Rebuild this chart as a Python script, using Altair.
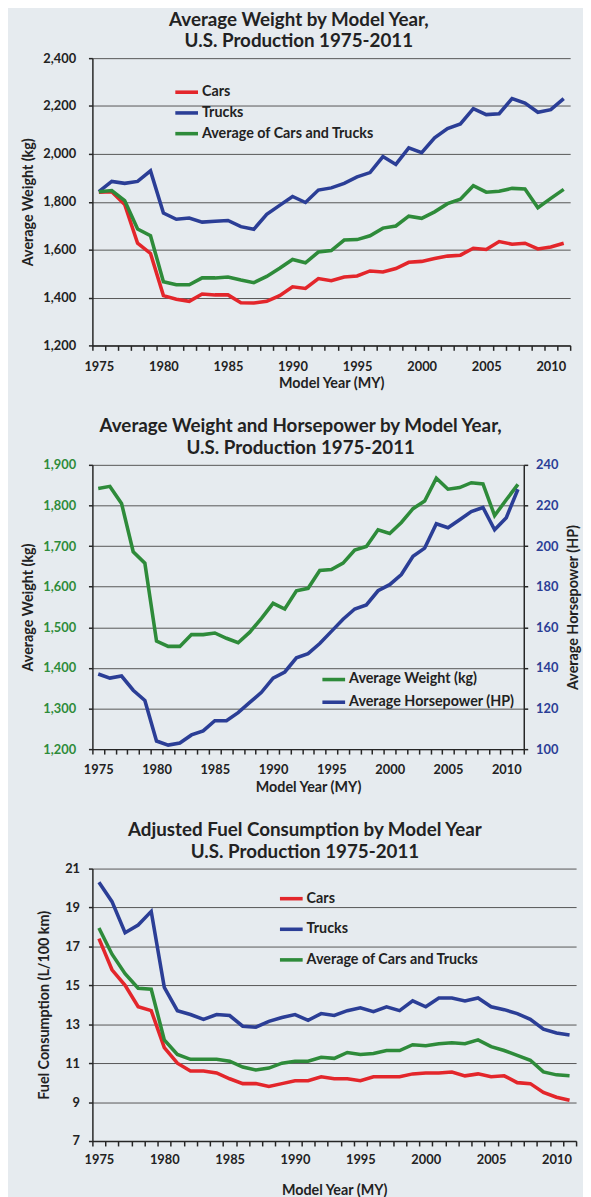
import altair as alt
import pandas as pd

# ---------------- data ----------------
years = list(range(1975, 2012))

cars_weight = [1840, 1842, 1789, 1627, 1584, 1408, 1393, 1384, 1415, 1411,
               1411, 1378, 1377, 1384, 1408, 1445, 1438, 1479, 1470, 1486,
               1490, 1511, 1507, 1521, 1547, 1551, 1563, 1573, 1577, 1606,
               1601, 1634, 1623, 1627, 1603, 1611, 1627]
trucks_weight = [1842, 1885, 1877, 1885, 1929, 1753, 1727, 1732, 1715, 1719,
                 1722, 1696, 1685, 1748, 1785, 1822, 1797, 1849, 1858, 1877,
                 1904, 1922, 1989, 1956, 2025, 2005, 2067, 2106, 2125, 2189,
                 2164, 2168, 2231, 2212, 2174, 2185, 2231]
avg_weight = [1842, 1847, 1805, 1686, 1658, 1466, 1453, 1453, 1482, 1482,
              1486, 1473, 1462, 1488, 1522, 1559, 1545, 1590, 1596, 1640,
              1642, 1658, 1690, 1699, 1740, 1731, 1758, 1792, 1811, 1867,
              1840, 1844, 1856, 1853, 1775, 1814, 1852]
avg_hp = [137, 135, 136, 129, 124, 104, 102, 103, 107, 109,
          114, 114, 118, 123, 128, 135, 138, 145, 147, 152,
          158, 164, 169, 171, 178, 181, 186, 195, 199, 211,
          209, 213, 217, 219, 208, 214, 228]
cars_fc = [17.4, 15.8, 15.0, 13.9, 13.7, 11.8, 11.0, 10.6, 10.6, 10.5,
           10.2, 9.95, 9.95, 9.8, 9.95, 10.1, 10.1, 10.3, 10.2, 10.2,
           10.1, 10.3, 10.3, 10.3, 10.45, 10.5, 10.5, 10.55, 10.35, 10.45,
           10.3, 10.35, 10.0, 9.95, 9.5, 9.25, 9.1]
trucks_fc = [20.3, 19.3, 17.7, 18.1, 18.8, 14.9, 13.7, 13.5, 13.25, 13.5,
             13.45, 12.9, 12.85, 13.15, 13.35, 13.5, 13.2, 13.55, 13.45, 13.7,
             13.85, 13.65, 13.9, 13.7, 14.2, 13.9, 14.35, 14.35, 14.2, 14.35,
             13.9, 13.75, 13.55, 13.25, 12.75, 12.55, 12.45]
avg_fc = [17.95, 16.6, 15.6, 14.85, 14.8, 12.2, 11.45, 11.2, 11.2, 11.2,
          11.1, 10.8, 10.65, 10.75, 11.0, 11.1, 11.1, 11.3, 11.25, 11.55,
          11.45, 11.5, 11.65, 11.65, 11.95, 11.9, 12.0, 12.05, 12.0, 12.2,
          11.85, 11.65, 11.4, 11.15, 10.55, 10.4, 10.35]

series3 = ["Cars", "Trucks", "Average of Cars and Trucks"]
series2 = ["Average Weight (kg)", "Average Horsepower (HP)"]

weight_ticks = list(range(1200, 2401, 200))
weight2_ticks = list(range(1200, 1901, 100))
hp_ticks = list(range(100, 241, 20))
fc_ticks = list(range(7, 22, 2))
year_bounds = [y - 0.5 for y in range(1975, 2013)]

# ---------------- style ----------------
FONT = "Lato"
TXT = "#222222"
RED = "#E3262B"
BLUE = "#2B3E96"
GREEN = "#2E8B3A"
BG = "#e6ebef"
LW = 3.6

year_label_expr = ("((datum.value + 0.5) % 5 == 0 && datum.value < 2011) "
                   "? '' + (datum.value + 0.5) : ''")


def x_enc(half, label_pad, title_pad):
    return alt.X(
        "year:Q",
        scale=alt.Scale(domain=[1974.5, 2011.5], nice=False, zero=False),
        axis=alt.Axis(values=year_bounds, labelExpr=year_label_expr,
                      labelOffset=half, labelFlush=False, labelOverlap=False,
                      labelAlign="center", title="Model Year (MY)", grid=False,
                      tickSize=5, labelPadding=label_pad, titlePadding=title_pad),
    )


def legend(x, y, row_pad):
    return alt.Legend(title=None, orient="none", legendX=x, legendY=y,
                      direction="vertical", symbolType="stroke", symbolSize=529,
                      symbolStrokeWidth=LW, labelFont=FONT, labelFontSize=14.5,
                      labelFontWeight="bold", labelColor=TXT, labelOffset=2,
                      rowPadding=row_pad, padding=0, labelLimit=400)


def title(lines):
    return alt.TitleParams(lines, font=FONT, fontSize=19, fontWeight="bold",
                           color=TXT, lineHeight=22, anchor="middle",
                           frame="bounds", offset=1)


# ---------------- panel 1 ----------------
df1 = pd.DataFrame({
    "year": years * 3,
    "value": cars_weight + trucks_weight + avg_weight,
    "series": [series3[0]] * len(years) + [series3[1]] * len(years) + [series3[2]] * len(years),
})
p1 = alt.Chart(df1).mark_line(strokeWidth=LW).encode(
    x=x_enc(6.5, 10.5, 3),
    y=alt.Y("value:Q", scale=alt.Scale(domain=[1200, 2400], nice=False, zero=False),
            axis=alt.Axis(values=weight_ticks, format=",d", title="Average Weight (kg)",
                          grid=True, tickSize=4, labelPadding=13, titlePadding=7)),
    color=alt.Color("series:N", sort=series3,
                    scale=alt.Scale(domain=series3, range=[RED, BLUE, GREEN]),
                    legend=legend(82, 21, -1.3)),
).properties(width=484, height=291,
             title=title(["Average Weight by Model Year,", "U.S. Production 1975-2011"]))

# ---------------- panel 2 ----------------
dfw = pd.DataFrame({"year": years, "value": avg_weight, "series": series2[0]})
dfh = pd.DataFrame({"year": years, "value": avg_hp, "series": series2[1]})
color2 = alt.Color("series:N", sort=series2,
                   scale=alt.Scale(domain=series2, range=[GREEN, BLUE]),
                   legend=legend(231, 204, 2))
wline = alt.Chart(dfw).mark_line(strokeWidth=LW).encode(
    x=x_enc(5.9, 9.5, 4),
    y=alt.Y("value:Q", scale=alt.Scale(domain=[1200, 1900], nice=False, zero=False),
            axis=alt.Axis(values=weight2_ticks, format=",d", title="Average Weight (kg)",
                          grid=True, tickSize=4, labelPadding=13, titlePadding=7,
                          labelColor=GREEN)),
    color=color2,
)
hline = alt.Chart(dfh).mark_line(strokeWidth=LW).encode(
    x=x_enc(5.9, 9.5, 4),
    y=alt.Y("value:Q", scale=alt.Scale(domain=[100, 240], nice=False, zero=False),
            axis=alt.Axis(values=hp_ticks, format="d", orient="right",
                          title="Average Horsepower (HP)",
                          grid=False, tickSize=4, labelPadding=8, titlePadding=9,
                          titleAngle=270, titleBaseline="top", labelColor=BLUE)),
    color=color2,
)
p2 = alt.layer(wline, hline).resolve_scale(y="independent").properties(
    width=437, height=288,
    title=title(["Average Weight and Horsepower by Model Year,", "U.S. Production 1975-2011"]))

# ---------------- panel 3 ----------------
df3 = pd.DataFrame({
    "year": years * 3,
    "value": cars_fc + trucks_fc + avg_fc,
    "series": [series3[0]] * len(years) + [series3[1]] * len(years) + [series3[2]] * len(years),
})
p3 = alt.Chart(df3).mark_line(strokeWidth=LW).encode(
    x=x_enc(6.6, 8, 17),
    y=alt.Y("value:Q", scale=alt.Scale(domain=[7, 21], nice=False, zero=False),
            axis=alt.Axis(values=fc_ticks, format="d",
                          title=["", "Fuel Consumption (L/100 km)"], titleLineHeight=10,
                          grid=True, tickSize=4, labelPadding=9, titlePadding=13)),
    color=alt.Color("series:N", sort=series3,
                    scale=alt.Scale(domain=series3, range=[RED, BLUE, GREEN]),
                    legend=legend(188, 17, 10)),
).properties(width=490, height=276,
             title=title(["Adjusted Fuel Consumption by Model Year", "U.S. Production 1975-2011"]))

chart = alt.concat(p1, p2, p3, columns=1, spacing=28, align="none").resolve_scale(
    color="independent"
).resolve_legend(color="independent").properties(
    padding={"left": 12.5, "top": -5, "right": 0, "bottom": 0},
    background=BG,
).configure_view(stroke=None).configure_axis(
    labelFont=FONT, labelFontSize=13, labelFontWeight="bold", labelColor=TXT,
    titleFont=FONT, titleFontSize=14.5, titleFontWeight="bold", titleColor=TXT,
    domainColor="#262626", domainWidth=1.5, tickColor="#262626", tickWidth=1.5,
    gridColor="#555555", gridWidth=1,
)

chart.save("out.html", embed_options={"renderer": "svg", "actions": False})
